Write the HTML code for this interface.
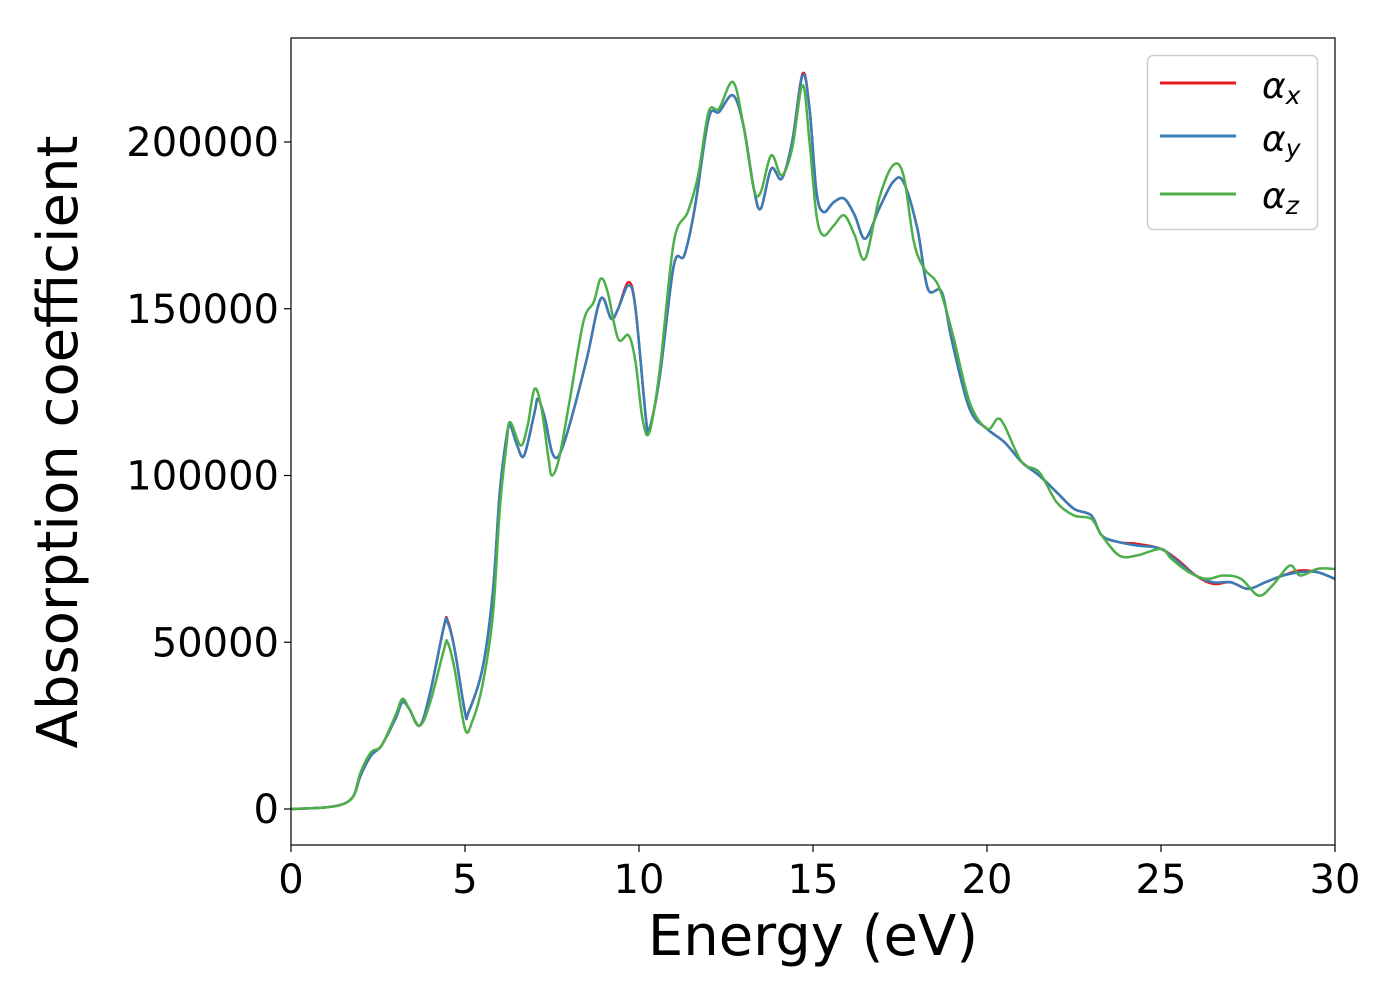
<!DOCTYPE html>
<html><head><meta charset="utf-8"><style>
html,body{margin:0;padding:0;background:#fff;}
svg{display:block;font-family:"DejaVu Sans","Liberation Sans",sans-serif;}
</style></head><body>
<svg id="chart" width="1400" height="1000" viewBox="0 0 1400 1000" xmlns="http://www.w3.org/2000/svg">
<rect x="0" y="0" width="1400" height="1000" fill="#fff"/>
<g id="plot"></g>
<g id="axes"></g>
<text x="813" y="955" font-size="56" text-anchor="middle">Energy (eV)</text>
<text x="0" y="0" font-size="56" text-anchor="middle" transform="translate(77,442) rotate(-90)">Absorption coefficient</text>
<g>
<rect x="1147.5" y="55.5" width="170" height="174" rx="6" fill="#fff" stroke="#ccc" stroke-width="1.5"/>
<line x1="1160" y1="83" x2="1236" y2="83" stroke="#e41a1c" stroke-width="3"/>
<text x="1262" y="98" font-size="36" font-style="italic">α<tspan font-size="25" dy="6">x</tspan></text>
<line x1="1160" y1="136" x2="1236" y2="136" stroke="#377eb8" stroke-width="3"/>
<text x="1262" y="151" font-size="36" font-style="italic">α<tspan font-size="25" dy="6">y</tspan></text>
<line x1="1160" y1="194" x2="1236" y2="194" stroke="#4daf4a" stroke-width="3"/>
<text x="1262" y="208" font-size="36" font-style="italic">α<tspan font-size="25" dy="6">z</tspan></text>
</g>
</svg>
<script>
const energyXY=[0,1,1.5,1.8,2.0,2.3,2.6,3.0,3.2,3.4,3.7,4.0,4.4,4.5,4.7,5.0,5.1,5.5,5.8,6.0,6.2,6.3,6.5,6.7,7.0,7.1,7.3,7.5,7.7,8.0,8.5,8.9,9.2,9.4,9.7,9.9,10.2,10.3,10.6,11,11.3,11.6,12,12.3,12.7,13,13.3,13.5,13.8,14.1,14.4,14.7,14.9,15.1,15.3,15.6,15.9,16.2,16.5,16.9,17.3,17.6,18,18.3,18.7,19,19.5,20,20.5,21,21.5,22,22.5,23,23.3,23.8,24.3,25,25.5,26,26.5,27,27.5,28,28.5,29,29.5,30];
const alphaX=[0,500,1500,4000,10000,16000,19000,27000,32000,30000,25000,35000,55000,56500,48000,29000,29000,42000,65000,95000,112000,115000,109000,106000,119000,123000,117000,107000,106000,115000,135000,153000,147000,150000,158000,150000,117000,114000,130000,163000,166000,180000,207000,209000,214000,205000,186000,180000,192000,189000,200000,220500,210000,185000,179000,182000,183000,178000,171000,180000,188000,188000,174000,156000,155000,140000,120000,114000,110000,104000,100000,95000,90000,88000,82000,80000,79500,78000,74500,70000,67500,68000,66000,68000,70000,71500,71000,69000];
const alphaY=[0,500,1500,4000,10000,16000,19000,27000,32000,30000,25000,35000,55000,56000,48000,29000,29000,42000,65000,95000,112000,115000,109000,106000,119000,123000,117000,107000,106000,115000,135000,153000,147000,150000,157000,150000,117000,114000,130000,163000,166000,180000,207000,209000,214000,205000,186000,180000,192000,189000,200000,220000,210000,185000,179000,182000,183000,178000,171000,180000,188000,188000,174000,156000,155000,140000,120000,114000,110000,104000,100000,95000,90000,88000,82000,80000,79000,78000,74000,70000,68000,68000,66000,68000,70000,71000,71000,69000];
const energyZ=[0,1,1.5,1.8,2.0,2.3,2.6,3.0,3.2,3.4,3.7,4.0,4.4,4.5,4.7,5.0,5.2,5.5,5.8,6.0,6.2,6.3,6.6,6.8,7.0,7.2,7.4,7.5,7.7,8.0,8.4,8.7,8.9,9.1,9.4,9.7,9.9,10.1,10.3,10.6,11,11.4,11.7,12,12.3,12.7,13,13.3,13.5,13.8,14.1,14.4,14.7,14.9,15.1,15.3,15.6,15.9,16.2,16.5,16.9,17.3,17.6,17.9,18.2,18.6,19,19.5,20,20.3,20.5,21,21.5,22,22.5,23,23.3,23.8,24.3,25,25.3,25.8,26.3,26.8,27.3,27.8,28.2,28.7,29,29.5,30];
const alphaZ=[0,500,1500,4000,11000,17000,19000,28000,33000,30000,25000,32000,48000,50000,42000,24000,26000,37000,58000,90000,110000,116000,109000,115000,126000,120000,105000,100000,105000,122000,146000,152000,159000,155000,141000,142000,134000,117000,113000,132000,170000,179000,190000,209000,210000,218000,205000,186000,185000,196000,190000,198000,217000,200000,178000,172000,175000,178000,172000,165000,183000,193000,190000,170000,162000,157000,143000,122000,114000,117000,115000,104000,101000,92000,88000,87000,82000,76000,76000,78000,75000,71000,69000,70000,69000,64000,67000,73000,70000,72000,72000];
const xTicks=[0,5,10,15,20,25,30];
const yTicks=[0,50000,100000,150000,200000];

const X0=291,X1=1335,Y0=38,Y1=845;
const xs=v=>X0+(v-0)/(30-0)*(X1-X0);
const ys=v=>809-(v/200000)*667;
const NS="http://www.w3.org/2000/svg";
const plot=document.getElementById('plot'),axes=document.getElementById('axes');
function mk(tag,attrs,parent){const e=document.createElementNS(NS,tag);for(const k in attrs)e.setAttribute(k,attrs[k]);parent.appendChild(e);return e;}
function pathD(xv,yv){
  const p=xv.map((x,i)=>[xs(x),ys(yv[i])]);
  let d=`M${p[0][0]},${p[0][1]}`;
  for(let i=0;i<p.length-1;i++){
    const p0=p[Math.max(i-1,0)],p1=p[i],p2=p[i+1],p3=p[Math.min(i+2,p.length-1)];
    const c1=[p1[0]+(p2[0]-p0[0])/6,p1[1]+(p2[1]-p0[1])/6];
    const c2=[p2[0]-(p3[0]-p1[0])/6,p2[1]-(p3[1]-p1[1])/6];
    d+=` C${c1[0]},${c1[1]} ${c2[0]},${c2[1]} ${p2[0]},${p2[1]}`;
  }
  return d;
}
mk('clipPath',{id:'clip'},plot);
mk('rect',{x:X0,y:Y0,width:X1-X0,height:Y1-Y0},document.getElementById('clip'));
const series=[[energyXY,alphaX,'#e41a1c','series-alpha-x'],[energyXY,alphaY,'#377eb8','series-alpha-y'],[energyZ,alphaZ,'#4daf4a','series-alpha-z']];
for(const s of series){
  const el=mk('path',{d:pathD(s[0],s[1]),fill:'none',stroke:s[2],'stroke-width':2.5,'clip-path':'url(#clip)'},plot);
  
  
}
const frame=mk('rect',{x:X0,y:Y0,width:X1-X0,height:Y1-Y0,fill:'none',stroke:'#000','stroke-width':1.2},axes);


for(const t of xTicks){
  const x=xs(t);
  const tk=mk('line',{x1:x,y1:Y1,x2:x,y2:Y1+7,stroke:'#000','stroke-width':1.2},axes);
  
  
  const lb=mk('text',{x:x,y:893,'font-size':40,'text-anchor':'middle'},axes);
  lb.textContent=t;
  
  
}
for(const t of yTicks){
  const y=ys(t);
  const tk=mk('line',{x1:X0-7,y1:y,x2:X0,y2:y,stroke:'#000','stroke-width':1.2},axes);
  
  
  const lb=mk('text',{x:279,y:y+14,'font-size':40,'text-anchor':'end'},axes);
  lb.textContent=t;
  
  
}
</script>
</body></html>
